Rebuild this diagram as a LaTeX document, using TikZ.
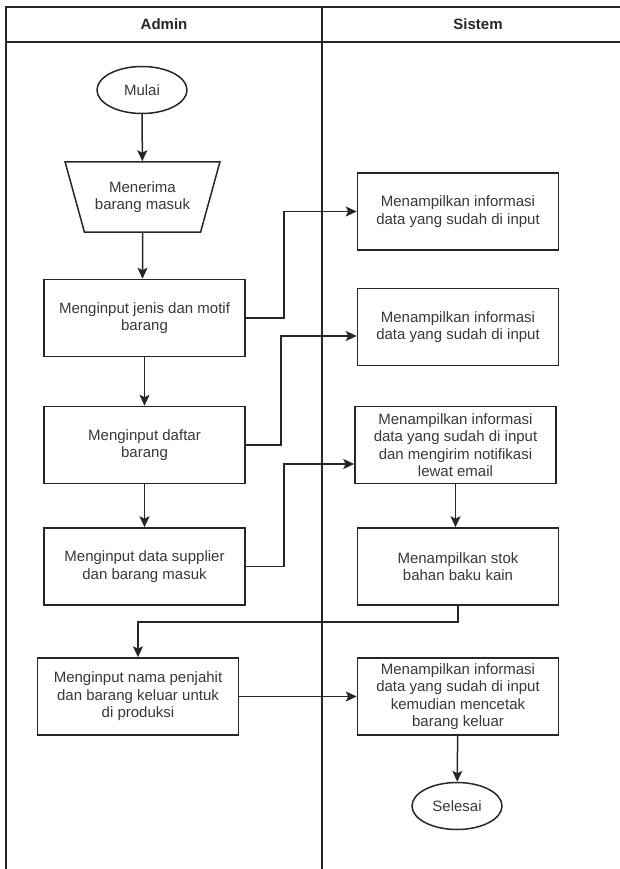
\documentclass[tikz,border=0pt]{standalone}
\usepackage{fontspec}
\setmainfont{Liberation Sans}
\usetikzlibrary{shapes.geometric,arrows.meta}
\begin{document}
\begin{tikzpicture}[x=1pt,y=-1pt,
  line/.style={draw=black!85, line width=1.5pt},
  txt/.style={text=black!78, font=\fontsize{15}{17.5}\selectfont, align=center},
  proc/.style={line, txt, rectangle, minimum width=201pt, minimum height=77pt, inner sep=0pt},
  term/.style={line, txt, ellipse, minimum width=90pt, minimum height=47pt, inner sep=0pt},
  flow/.style={line, -{Stealth[length=11pt,width=10pt,inset=2.5pt]}},
  lane/.style={draw=black!85, line width=1.5pt},
  head/.style={text=black!85, font=\bfseries\fontsize{15}{18}\selectfont}
]
\useasboundingbox (0,0) rectangle (619,869);

% swimlane frame
\draw[lane] (6,880) -- (6,7) -- (630,7);
\draw[lane] (6,42) -- (630,42);
\draw[lane] (322,7) -- (322,880);
\node[head] (hAdmin) at (164,24.5) {Admin};
\node[head] (hSistem) at (478,24.5) {Sistem};

% Admin lane
\node[term] (mulai) at (142,90) {Mulai};
\node[line, txt, trapezium, shape border rotate=180, trapezium stretches=true,
      trapezium angle=63.4, minimum width=155pt, minimum height=70pt, inner sep=0pt]
      (terima) at (142.5,197) {Menerima\\barang masuk};
\node[proc] (box1) at (144.5,318) {Menginput jenis dan motif\\barang};
\node[proc] (box2) at (144.5,445) {Menginput daftar\\barang};
\node[proc] (box3) at (144.5,566.5) {Menginput data supplier\\dan barang masuk};
\node[proc] (box4) at (138,696.5) {Menginput nama penjahit\\dan barang keluar untuk\\di produksi};

% Sistem lane
\node[proc] (sys1) at (458,211.5) {Menampilkan informasi\\data yang sudah di input};
\node[proc] (sys2) at (458,327) {Menampilkan informasi\\data yang sudah di input};
\node[proc] (sys3) at (455.5,445) {Menampilkan informasi\\data yang sudah di input\\dan mengirim notifikasi\\lewat email};
\node[proc] (sys4) at (458,566.5) {Menampilkan stok\\bahan baku kain};
\node[proc] (sys5) at (458,696.5) {Menampilkan informasi\\data yang sudah di input\\kemudian mencetak\\barang keluar};
\node[term] (selesai) at (457,806) {Selesai};

% flow
\draw[flow] (mulai) -- (terima);
\draw[flow] (terima) -- (terima |- box1.north);
\draw[flow] (box1) -- (box2);
\draw[flow] (box2) -- (box3);
\draw[flow] (box1.east) -- ++(38,0) |- (sys1.west);
\draw[flow] (box2.east) -- ++(35,0) |- ([yshift=-9pt]sys2.west);
\draw[flow] (box3.east) -- ++(38,0) |- ([yshift=-19pt]sys3.west);
\draw[flow] (sys3.south) -- (sys3.south |- sys4.north);
\draw[flow] (sys4.south) -- ++(0,16) -| (box4.north);
\draw[flow] (box4.east) -- (sys5.west);
\draw[flow] (sys5) -- (selesai);
\end{tikzpicture}
\end{document}
